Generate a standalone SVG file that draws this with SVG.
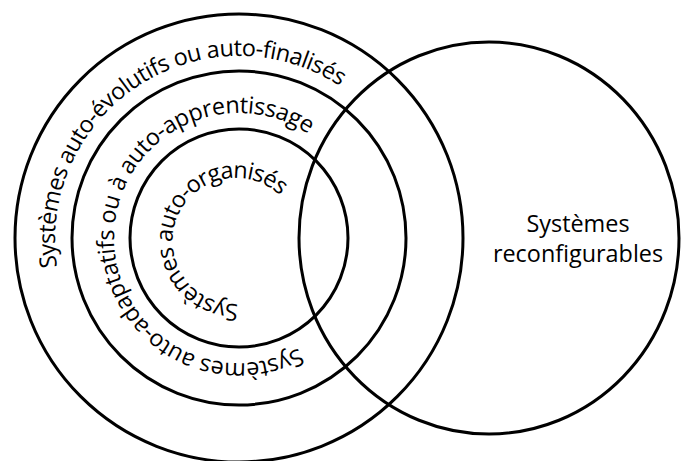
<svg xmlns="http://www.w3.org/2000/svg" width="681" height="461" viewBox="0 0 681 461">
  <style>
    .ring { fill: none; stroke: #000; stroke-width: 3; }
    .lbl { font-family: "Open Sans", "Noto Sans", sans-serif; font-size: 23.4px; fill: #000; }
  </style>
  <defs>
    <!-- clockwise baselines for the curved labels -->
    <path id="arc-outer" d="M 57.02 267.2 A 184 184 0 1 1 420.98 212.8 A 184 184 0 1 1 57.02 267.2"/>
    <path id="arc-middle" d="M 298.65 347.85 A 125 125 0 1 1 179.35 128.15 A 125 125 0 1 1 298.65 347.85"/>
    <path id="arc-inner" d="M 238.2 303.96 A 63 63 0 1 1 233.8 178.04 A 63 63 0 1 1 238.2 303.96"/>
  </defs>
  <rect width="681" height="461" fill="#fff"/>

  <g id="auto-evolutifs">
    <circle class="ring" cx="239" cy="238" r="224"/>
    <text class="lbl" letter-spacing="-0.55"><textPath href="#arc-outer">Systèmes auto-évolutifs ou auto-finalisés</textPath></text>
  </g>

  <g id="auto-adaptatifs">
    <circle class="ring" cx="239" cy="238" r="167"/>
    <text class="lbl" letter-spacing="-0.4"><textPath href="#arc-middle">Systèmes auto-adaptatifs ou à auto-apprentissage</textPath></text>
  </g>

  <g id="auto-organises">
    <circle class="ring" cx="239" cy="238" r="109"/>
    <text class="lbl" font-size="21.5" letter-spacing="-1"><textPath href="#arc-inner">Systèmes auto-organisés</textPath></text>
  </g>

  <g id="reconfigurables">
    <ellipse class="ring" cx="489" cy="238" rx="190" ry="196"/>
    <text class="lbl" text-anchor="middle" x="578" y="232">Systèmes</text>
    <text class="lbl" text-anchor="middle" x="578" y="262">reconfigurables</text>
  </g>
</svg>
